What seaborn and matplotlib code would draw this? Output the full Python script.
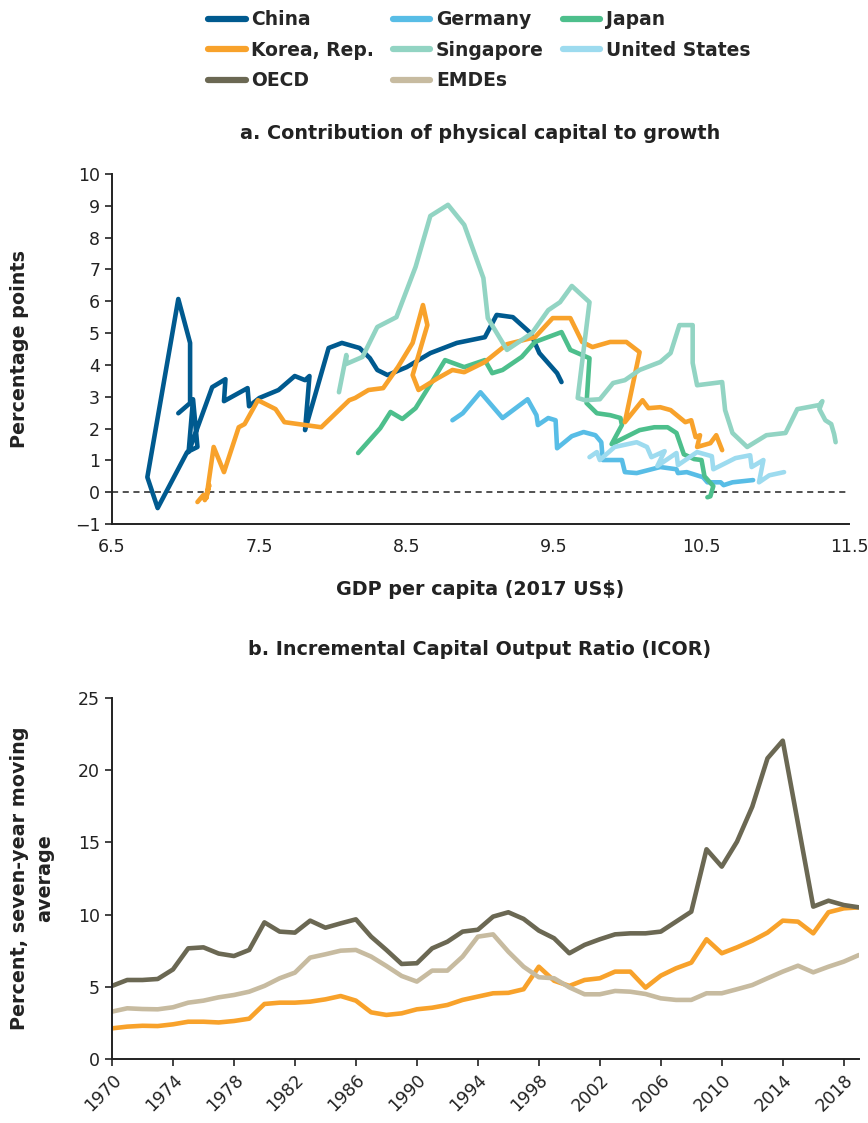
import matplotlib
matplotlib.use('Agg')
import matplotlib.pyplot as plt
from matplotlib.lines import Line2D
import seaborn as sns
import pandas as pd
import numpy as np

# ---- panel a: log GDP per capita vs contribution of physical capital (pp) ----
china_x = [6.95, 7.03, 7.03, 6.95, 6.74, 6.81, 7.01, 7.08, 7.05, 7.02, 7.18, 7.27, 7.26, 7.42, 7.43,
           7.50, 7.63, 7.74, 7.81, 7.84, 7.81, 7.97, 8.06, 8.18, 8.25, 8.30, 8.37, 8.50, 8.66, 8.84,
           9.03, 9.11, 9.22, 9.34, 9.40, 9.52, 9.55]
china_y = [2.48, 2.80, 4.69, 6.07, 0.47, -0.50, 1.26, 1.42, 2.92, 1.26, 3.30, 3.55, 2.86, 3.27, 2.70,
           2.96, 3.21, 3.65, 3.52, 3.65, 1.95, 4.53, 4.69, 4.53, 4.21, 3.84, 3.68, 3.93, 4.37, 4.69,
           4.87, 5.57, 5.50, 5.00, 4.37, 3.74, 3.46]

germany_x = [8.81, 8.88, 9.00, 9.15, 9.32, 9.38, 9.39, 9.46, 9.51, 9.52, 9.62, 9.70, 9.78, 9.82,
             9.83, 9.96, 9.98, 10.06, 10.22, 10.33, 10.34, 10.40, 10.51, 10.54, 10.63, 10.65, 10.71, 10.85]
germany_y = [2.26, 2.48, 3.14, 2.33, 2.92, 2.42, 2.11, 2.33, 2.26, 1.38, 1.76, 1.89, 1.79, 1.57,
             1.01, 1.01, 0.63, 0.60, 0.79, 0.72, 0.60, 0.63, 0.47, 0.31, 0.31, 0.22, 0.31, 0.38]

japan_x = [8.17, 8.32, 8.39, 8.47, 8.56, 8.67, 8.76, 8.89, 9.03, 9.08, 9.15, 9.28, 9.37, 9.55, 9.61,
           9.74, 9.72, 9.79, 9.88, 9.95, 9.96, 9.89, 10.08, 10.18, 10.27, 10.33, 10.38, 10.45, 10.50,
           10.52, 10.58, 10.56, 10.54]
japan_y = [1.23, 2.01, 2.52, 2.30, 2.64, 3.46, 4.15, 3.93, 4.15, 3.74, 3.84, 4.25, 4.72, 5.03, 4.47,
           4.21, 2.80, 2.48, 2.42, 2.33, 2.11, 1.51, 1.95, 2.04, 2.04, 1.86, 1.19, 1.04, 1.01,
           0.50, 0.19, -0.13, -0.16]

korea_x = [7.08, 7.12, 7.13, 7.16, 7.14, 7.19, 7.26, 7.36, 7.40, 7.49, 7.61, 7.67, 7.92, 8.11, 8.15,
           8.24, 8.34, 8.44, 8.54, 8.61, 8.64, 8.57, 8.54, 8.58, 8.71, 8.81, 8.89, 9.03, 9.18, 9.37,
           9.49, 9.61, 9.69, 9.76, 9.88, 9.99, 10.08, 9.98, 10.10, 10.14, 10.22, 10.29, 10.39, 10.43,
           10.46, 10.49, 10.47, 10.56, 10.60, 10.64]
korea_y = [-0.31, -0.09, -0.25, 0.22, -0.19, 1.42, 0.63, 2.04, 2.14, 2.89, 2.61, 2.20, 2.04, 2.89, 2.96,
           3.21, 3.27, 3.93, 4.69, 5.88, 5.25, 4.15, 3.68, 3.21, 3.58, 3.84, 3.77, 4.09, 4.65, 4.87,
           5.47, 5.47, 4.72, 4.56, 4.72, 4.72, 4.40, 2.20, 2.89, 2.64, 2.67, 2.58, 2.20, 2.26,
           1.73, 1.79, 1.42, 1.54, 1.79, 1.32]

singapore_x = [8.04, 8.09, 8.09, 8.20, 8.30, 8.43, 8.56, 8.66, 8.78, 8.89, 9.02, 9.05, 9.18, 9.35, 9.46,
               9.54, 9.62, 9.74, 9.66, 9.71, 9.81, 9.90, 9.98, 10.08, 10.22, 10.29, 10.35, 10.44, 10.44,
               10.47, 10.64, 10.66, 10.71, 10.81, 10.94, 11.07, 11.15, 11.22, 11.30, 11.32, 11.30, 11.34,
               11.38, 11.40, 11.41]
singapore_y = [3.14, 4.31, 4.03, 4.25, 5.19, 5.50, 7.08, 8.68, 9.03, 8.40, 6.73, 5.47, 4.47, 5.00, 5.72,
               5.97, 6.48, 5.97, 2.96, 2.89, 2.92, 3.43, 3.52, 3.84, 4.09, 4.37, 5.25, 5.25, 4.06,
               3.36, 3.46, 2.58, 1.86, 1.42, 1.79, 1.86, 2.61, 2.67, 2.74, 2.86, 2.61, 2.26,
               2.14, 1.82, 1.57]

us_x = [9.74, 9.79, 9.81, 9.91, 10.06, 10.13, 10.16, 10.25, 10.20, 10.33, 10.34, 10.47, 10.57, 10.58,
        10.73, 10.83, 10.84, 10.92, 10.89, 10.96, 11.06]
us_y = [1.10, 1.26, 1.01, 1.42, 1.57, 1.42, 1.10, 1.29, 0.82, 1.23, 0.85, 1.26, 1.13, 0.72,
        1.07, 1.16, 0.79, 1.01, 0.31, 0.53, 0.63]

# ---- panel b: ICOR, seven-year moving average ----
years = list(range(1970, 2020))
oecd = [5.06, 5.47, 5.47, 5.54, 6.20, 7.66, 7.73, 7.30, 7.13, 7.55,
        9.46, 8.82, 8.75, 9.58, 9.09, 9.39, 9.67, 8.47, 7.55, 6.58,
        6.63, 7.66, 8.12, 8.82, 8.95, 9.86, 10.16, 9.70, 8.89, 8.36,
        7.32, 7.90, 8.29, 8.63, 8.70, 8.70, 8.82, 9.51, 10.20, 14.52,
        13.32, 15.05, 17.47, 20.82, 22.04, 16.30, 10.55, 10.96, 10.66, 10.50]
emdes = [3.28, 3.51, 3.46, 3.44, 3.58, 3.90, 4.04, 4.27, 4.43, 4.66,
         5.06, 5.59, 5.98, 7.02, 7.25, 7.50, 7.55, 7.09, 6.44, 5.75,
         5.36, 6.12, 6.12, 7.09, 8.47, 8.63, 7.43, 6.39, 5.66, 5.59,
         4.96, 4.48, 4.48, 4.71, 4.66, 4.50, 4.20, 4.09, 4.09, 4.55,
         4.55, 4.83, 5.12, 5.59, 6.05, 6.46, 6.00, 6.39, 6.74, 7.20]
korea_icor = [2.12, 2.24, 2.30, 2.28, 2.40, 2.58, 2.58, 2.53, 2.63, 2.79,
              3.81, 3.90, 3.90, 3.97, 4.13, 4.36, 4.04, 3.23, 3.05, 3.16,
              3.44, 3.55, 3.74, 4.09, 4.32, 4.55, 4.58, 4.83, 6.39, 5.42,
              5.06, 5.47, 5.59, 6.05, 6.05, 4.94, 5.77, 6.28, 6.67, 8.29,
              7.32, 7.73, 8.19, 8.75, 9.58, 9.51, 8.70, 10.16, 10.43, 10.50]

colors = {
    'China': '#005A8F',
    'Germany': '#58BDE6',
    'Japan': '#4DBF8C',
    'Korea, Rep.': '#F8A22B',
    'Singapore': '#92D4C3',
    'United States': '#9DDBEF',
    'OECD': '#6B6853',
    'EMDEs': '#C7BBA0',
}

sns.set_style('ticks')
plt.rcParams['font.family'] = ['DejaVu Sans']

series_a = [('China', china_x, china_y), ('Germany', germany_x, germany_y),
            ('Japan', japan_x, japan_y), ('Korea, Rep.', korea_x, korea_y),
            ('Singapore', singapore_x, singapore_y), ('United States', us_x, us_y)]
rows = []
for name, xs, ys in series_a:
    for i, (xv, yv) in enumerate(zip(xs, ys)):
        rows.append({'country': name, 'step': i, 'gdp': xv, 'contrib': yv})
df_a = pd.DataFrame(rows)

df_b = pd.DataFrame({'year': years * 3,
                     'icor': oecd + emdes + korea_icor,
                     'group': ['OECD'] * 50 + ['EMDEs'] * 50 + ['Korea, Rep.'] * 50})

fig = plt.figure(figsize=(8.68, 11.23), dpi=100)
ax1 = fig.add_axes([0.129, 0.5334, 0.849, 0.3117])
ax2 = fig.add_axes([0.129, 0.057, 0.8606, 0.3215])

lab_font = dict(fontsize=13.8, fontweight='bold', color='#222222')

# panel a
ax1.axhline(0, color='#222222', lw=1.1, ls=(0, (4, 3)), zorder=1)
sns.lineplot(data=df_a, x='gdp', y='contrib', hue='country', palette=colors,
             sort=False, estimator=None, lw=3.3, legend=False, ax=ax1)
ax1.set_xlim(6.5, 11.5)
ax1.set_ylim(-1, 10)
ax1.set_xticks(np.arange(6.5, 11.6, 1.0))
ax1.set_yticks(range(-1, 11))
ax1.set_xticklabels(['6.5', '7.5', '8.5', '9.5', '10.5', '11.5'])
ax1.set_yticklabels(['\u22121'] + [str(v) for v in range(0, 11)])
ax1.set_xlabel('GDP per capita (2017 US$)', **lab_font)
ax1.xaxis.set_label_coords(0.5, -0.16)
ax1.set_ylabel('Percentage points', **lab_font)
ax1.yaxis.set_label_coords(-0.113, 0.5)

# panel b
sns.lineplot(data=df_b, x='year', y='icor', hue='group', palette=colors,
             hue_order=['Korea, Rep.', 'EMDEs', 'OECD'], lw=3.3, legend=False, ax=ax2)
ax2.set_xlim(1970, 2019)
ax2.set_ylim(0, 25)
ax2.set_yticks(range(0, 26, 5))
ax2.set_xticks(range(1970, 2019, 4))
ax2.set_xticklabels([str(y) for y in range(1970, 2019, 4)], rotation=45, ha='right',
                    rotation_mode='anchor')
ax2.set_xlabel('')
ax2.set_ylabel('Percent, seven-year moving\naverage', linespacing=1.45, **lab_font)
ax2.yaxis.set_label_coords(-0.077, 0.5)

for ax in (ax1, ax2):
    sns.despine(ax=ax)
    for s in ('left', 'bottom'):
        ax.spines[s].set_linewidth(1.4)
        ax.spines[s].set_color('#222222')
    ax.tick_params(axis='both', labelsize=12.5, colors='#222222', width=1.2, length=5)

ax1.tick_params(axis='x', length=0, pad=10)

fig.text(0.553, 0.881, 'a. Contribution of physical capital to growth',
         ha='center', va='center', **lab_font)
fig.text(0.553, 0.4212, 'b. Incremental Capital Output Ratio (ICOR)',
         ha='center', va='center', **lab_font)

order = ['China', 'Korea, Rep.', 'OECD', 'Germany', 'Singapore', 'EMDEs', 'Japan', 'United States']
handles = [Line2D([0], [0], color=colors[n], lw=4.5) for n in order]
fig.legend(handles, order, loc='upper center', bbox_to_anchor=(0.552, 1.006), ncol=3,
           frameon=False, prop={'weight': 'bold', 'size': 13.5}, handlelength=2.0,
           handletextpad=0.3, columnspacing=1.0, labelspacing=0.62)

fig.savefig('out.png', dpi=100)
